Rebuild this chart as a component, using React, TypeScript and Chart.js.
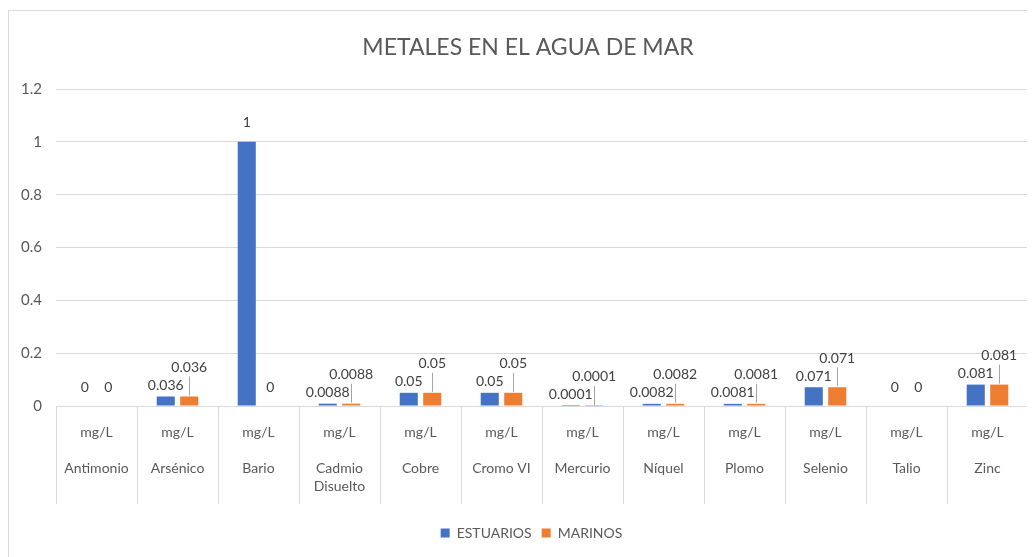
import React, { useEffect, useRef } from "react";
import { Chart, registerables } from "chart.js";

Chart.register(...registerables);

const chartTitle = "METALES EN EL AGUA DE MAR";
const categories = [
  "Antimonio",
  "Arsénico",
  "Bario",
  "Cadmio Disuelto",
  "Cobre",
  "Cromo VI",
  "Mercurio",
  "Níquel",
  "Plomo",
  "Selenio",
  "Talio",
  "Zinc",
];
const units = ["mg/L", "mg/L", "mg/L", "mg/L", "mg/L", "mg/L", "mg/L", "mg/L", "mg/L", "mg/L", "mg/L", "mg/L"];
const estuarios = [0, 0.036, 1, 0.0088, 0.05, 0.05, 0.0001, 0.0082, 0.0081, 0.071, 0, 0.081];
const marinos = [0, 0.036, 0, 0.0088, 0.05, 0.05, 0.0001, 0.0082, 0.0081, 0.071, 0, 0.081];
const yTicks = [0, 0.2, 0.4, 0.6, 0.8, 1, 1.2];

const FONT = "Lato, 'Open Sans', sans-serif";
const BLUE = "#4472C4";
const ORANGE = "#ED7D31";
const GRID = "#d9d9d9";
const TEXT = "#595959";

const titlePlugin = {
  id: "manualTitle",
  afterLayout(chart: any) {
    // nudge the legend a little to the right, as in the reference
    if (chart.legend) chart.legend.left += 26;
  },
  afterDraw(chart: any) {
    const ctx = chart.ctx;
    ctx.save();
    ctx.font = `400 23px ${FONT}`;
    ctx.fillStyle = TEXT;
    ctx.textAlign = "center";
    ctx.textBaseline = "middle";
    ctx.fillText(chartTitle, 519, 37);
    ctx.restore();
  },
};

const dataLabels = {
  id: "dataLabels",
  afterDatasetsDraw(chart: any) {
    const ctx = chart.ctx;
    ctx.save();
    ctx.font = `14px ${FONT}`;
    ctx.fillStyle = "#404040";
    ctx.textAlign = "center";
    ctx.textBaseline = "middle";
    chart.data.datasets.forEach((ds: any, di: number) => {
      const meta = chart.getDatasetMeta(di);
      meta.data.forEach((el: any, i: number) => {
        const v = ds.data[i];
        const top = el.y;
        let off: number;
        if (v === 0 || v >= 0.5) off = 19;
        else off = di === 0 ? 11 : 29;
        const cy = top - off;
        ctx.fillText(String(v), el.x, cy);
        if (di === 1 && v !== 0) {
          ctx.strokeStyle = "#a6a6a6";
          ctx.lineWidth = 1;
          ctx.beginPath();
          ctx.moveTo(Math.round(el.x) + 0.5, top - 1);
          ctx.lineTo(Math.round(el.x) + 0.5, cy + 9);
          ctx.stroke();
        }
      });
    });
    ctx.restore();
  },
};

export default function App() {
  const ref = useRef<HTMLCanvasElement | null>(null);
  useEffect(() => {
    document.body.style.overflow = "hidden";
    const chart = new Chart(ref.current as HTMLCanvasElement, {
      type: "bar",
      data: {
        labels: categories,
        datasets: [
          {
            label: "ESTUARIOS",
            data: estuarios,
            backgroundColor: BLUE,
            categoryPercentage: 0.58,
            barPercentage: 0.77,
          },
          {
            label: "MARINOS",
            data: marinos,
            backgroundColor: ORANGE,
            categoryPercentage: 0.58,
            barPercentage: 0.77,
          },
        ],
      },
      options: {
        animation: false,
        responsive: true,
        maintainAspectRatio: false,
        layout: { padding: { left: 0, right: 7, top: 78, bottom: 20 } },
        plugins: {
          title: { display: false },
          legend: {
            position: "bottom",
            labels: {
              color: TEXT,
              font: { family: FONT, size: 14 },
              boxWidth: 9,
              boxHeight: 9,
              padding: 10,
            },
          },
          tooltip: { enabled: false },
        },
        scales: {
          x: {
            grid: {
              offset: true,
              drawOnChartArea: false,
              drawTicks: true,
              tickLength: 98,
              color: GRID,
            },
            border: { display: true, color: GRID },
            ticks: {
              autoSkip: false,
              maxRotation: 0,
              minRotation: 0,
              padding: -81,
              color: TEXT,
              font: { family: FONT, size: 14, lineHeight: 1.3 },
              callback: (_v: any, i: number) => {
                const name = categories[i];
                const lines = name.length > 10 ? name.split(" ") : [name];
                return [units[i], "", ...lines];
              },
            },
            afterFit: (s: any) => {
              s.height = 110;
            },
          },
          y: {
            min: 0,
            max: 1.2,
            afterBuildTicks: (s: any) => {
              s.ticks = yTicks.map((v) => ({ value: v }));
            },
            grid: { color: GRID, drawTicks: false },
            border: { display: false },
            ticks: {
              padding: 14,
              color: TEXT,
              font: { family: FONT, size: 15 },
              callback: (v: any) => String(v),
            },
            afterFit: (s: any) => {
              s.width = 47;
            },
          },
        },
      },
      plugins: [dataLabels, titlePlugin],
    });
    return () => chart.destroy();
  }, []);
  return (
    <div
      style={{
        position: "relative",
        marginTop: 2,
        width: 1028,
        height: 561,
        boxSizing: "border-box",
        border: `1px solid ${GRID}`,
        background: "#fff",
      }}
    >
      <canvas ref={ref} />
    </div>
  );
}
